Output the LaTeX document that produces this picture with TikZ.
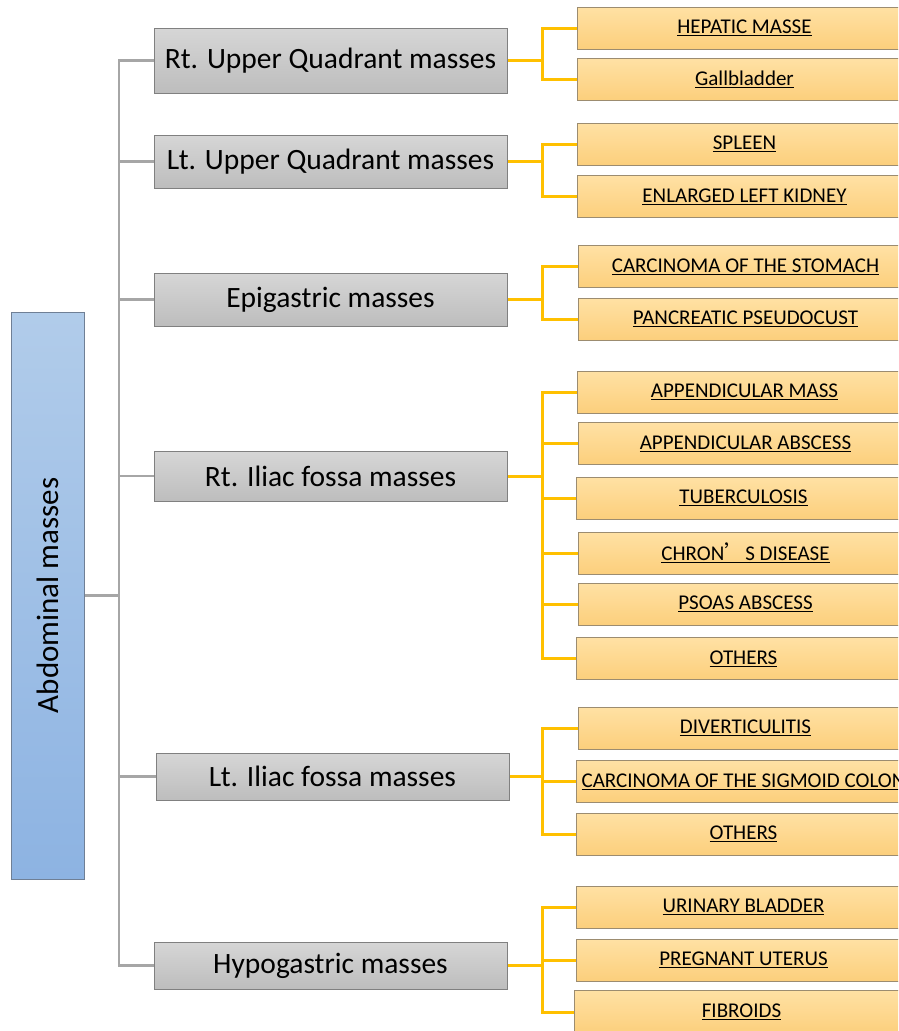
\documentclass[tikz,border=0pt]{standalone}
\usepackage{fontspec}
\setmainfont{Carlito}
\newfontfamily\cjk{Noto Sans CJK SC}
\begin{document}
\begin{tikzpicture}[x=1pt,y=-1pt,
  mainbox/.style={draw=mborder, line width=0.9pt, top color=mblueT, bottom color=mblueB, inner sep=0pt},
  graybox/.style={draw=black!50, line width=1pt, top color=grayT, bottom color=grayB, minimum width=353pt, inner sep=0pt, font=\fontsize{29.5}{33}\selectfont},
  obox/.style={draw=oborder, line width=1pt, top color=orT, bottom color=orB, minimum width=334pt, minimum height=42pt, inner sep=0pt, anchor=west, font=\fontsize{21}{24}\selectfont},
  gline/.style={draw=black!35, line width=2.5pt},
  oline/.style={draw=ored, line width=3pt}
]
\definecolor{mblueT}{HTML}{B1CCEA}
\definecolor{mblueB}{HTML}{8DB3E2}
\definecolor{mborder}{HTML}{6F7F95}
\definecolor{grayT}{HTML}{D6D6D6}
\definecolor{grayB}{HTML}{BDBDBD}
\definecolor{orT}{HTML}{FFE1A4}
\definecolor{orB}{HTML}{FCCF7C}
\definecolor{oborder}{HTML}{9C8C70}
\definecolor{ored}{HTML}{FFC000}
\useasboundingbox (0,0) rectangle (898,1031);
\clip (0,0) rectangle (898,1031);
\coordinate (trunk) at (119,0);
\coordinate (bus) at (542,0);

% gray connectors
\draw[gline] (84,595.5) -- (119,595.5);
\draw[gline] (154,60.5) -- (119,60.5) -- (119,965.5) -- (154,965.5);

% main
\node[mainbox, minimum width=73pt, minimum height=567pt] (main) at (47.5,595.5) {};
\node[rotate=90, font=\fontsize{31}{35}\selectfont] (maintext) at (main.center) {Abdominal masses};

% gray boxes
\node[graybox, minimum height=65pt] (g1) at (330.5,60.5) {Rt. Upper Quadrant masses};
\node[graybox, minimum height=53pt] (g2) at (330.5,161.5) {Lt. Upper Quadrant masses};
\node[graybox, minimum height=53pt] (g3) at (330.5,299.5) {Epigastric masses};
\node[graybox, minimum height=50pt] (g4) at (330.5,476) {Rt. Iliac fossa masses};
\node[graybox, minimum height=47pt] (g5) at (332.5,776.5) {Lt. Iliac fossa masses};
\node[graybox, minimum height=47pt] (g6) at (330.5,965.5) {Hypogastric masses};

% orange boxes
\node[obox] (o11) at (577,28) {\underline{HEPATIC MASSE}};
\node[obox] (o12) at (577,79.5) {\underline{Gallbladder}};
\node[obox] (o21) at (577,144) {\underline{SPLEEN}};
\node[obox] (o22) at (577,196.5) {\underline{ENLARGED LEFT KIDNEY}};
\node[obox] (o31) at (578,266.5) {\underline{CARCINOMA OF THE STOMACH}};
\node[obox] (o32) at (578,319) {\underline{PANCREATIC PSEUDOCUST}};
\node[obox] (o41) at (577,392) {\underline{APPENDICULAR MASS}};
\node[obox] (o42) at (578,443.5) {\underline{APPENDICULAR ABSCESS}};
\node[obox] (o43) at (576,498) {\underline{TUBERCULOSIS}};
\node[obox] (o44) at (578,553) {\underline{CHRON{\cjk ’}S DISEASE}};
\node[obox] (o45) at (578,604) {\underline{PSOAS ABSCESS}};
\node[obox] (o46) at (576,658.5) {\underline{OTHERS}};
\node[obox] (o51) at (578,728) {\underline{DIVERTICULITIS}};
\node[obox] (o52) at (576,781.5) {\underline{CARCINOMA OF THE SIGMOID COLON}};
\node[obox] (o53) at (576,834) {\underline{OTHERS}};
\node[obox] (o61) at (576,907) {\underline{URINARY BLADDER}};
\node[obox] (o62) at (576,960) {\underline{PREGNANT UTERUS}};
\node[obox, minimum height=44pt] (o63) at (574,1012) {\underline{FIBROIDS}};

% gray connectors to boxes
\draw[gline] (g2.west) -- (g2.west -| trunk);
\draw[gline] (g3.west) -- (g3.west -| trunk);
\draw[gline] (g4.west) -- (g4.west -| trunk);
\draw[gline] (g5.west) -- (g5.west -| trunk);

% orange connectors
\draw[oline] (g1.east) -- (g1.east -| bus);
\draw[oline] (o11.west) -- (o11.west -| bus) -- (o12.west -| bus) -- (o12.west);
\draw[oline] (g2.east) -- (g2.east -| bus);
\draw[oline] (o21.west) -- (o21.west -| bus) -- (o22.west -| bus) -- (o22.west);
\draw[oline] (g3.east) -- (g3.east -| bus);
\draw[oline] (o31.west) -- (o31.west -| bus) -- (o32.west -| bus) -- (o32.west);
\draw[oline] (g4.east) -- (g4.east -| bus);
\draw[oline] (o41.west) -- (o41.west -| bus) -- (o46.west -| bus) -- (o46.west);
\draw[oline] (o42.west) -- (o42.west -| bus);
\draw[oline] (o43.west) -- (o43.west -| bus);
\draw[oline] (o44.west) -- (o44.west -| bus);
\draw[oline] (o45.west) -- (o45.west -| bus);
\draw[oline] (g5.east) -- (g5.east -| bus);
\draw[oline] (o51.west) -- (o51.west -| bus) -- (o53.west -| bus) -- (o53.west);
\draw[oline] (o52.west) -- (o52.west -| bus);
\draw[oline] (g6.east) -- (g6.east -| bus);
\draw[oline] (o61.west) -- (o61.west -| bus) -- (o63.west -| bus) -- (o63.west);
\draw[oline] (o62.west) -- (o62.west -| bus);
\end{tikzpicture}
\end{document}
